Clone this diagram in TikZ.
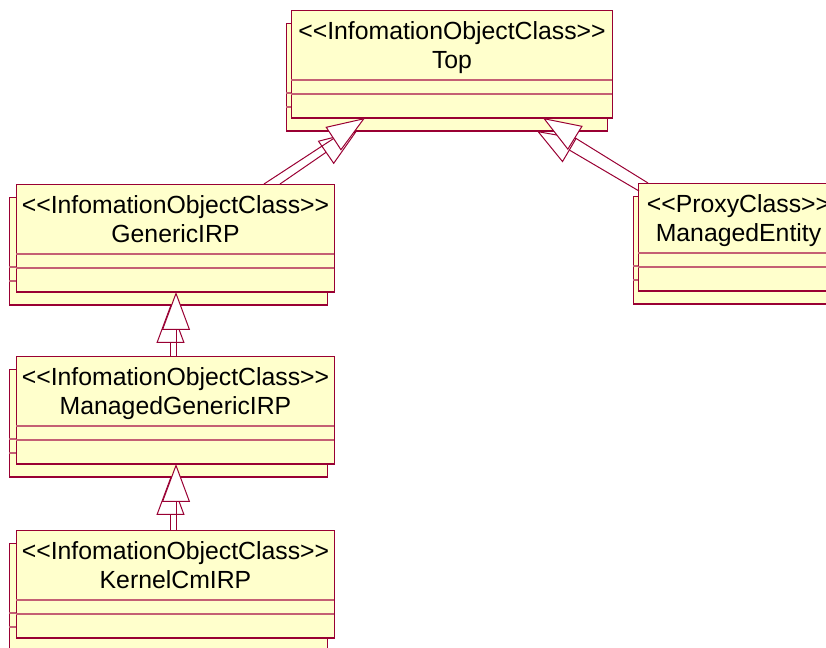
\documentclass[tikz,border=0pt]{standalone}
\usepackage{fontspec}
\setmainfont{Liberation Sans}
\usetikzlibrary{positioning,calc,arrows.meta}
\definecolor{umlfill}{RGB}{255,255,204}
\definecolor{umldark}{RGB}{153,0,51}
\definecolor{umlpink}{RGB}{196,96,116}

\begin{document}
\begin{tikzpicture}[x=0.75pt,y=-0.75pt,
    classbox/.style={draw=umldark, fill=umlfill, line width=0.75pt, inner sep=0pt,
      anchor=north west, minimum height=80.25pt},
    classtext/.style={anchor=north, align=center, inner sep=0pt,
      font=\fontsize{18.6}{22}\selectfont},
    sepline/.style={draw=umlpink, line width=1pt},
    inherit/.style={draw=umldark, line width=0.75pt,
      -{Triangle[length=28.5pt,width=21pt,fill=white,line width=0.75pt]}}]
    \useasboundingbox (0,0) rectangle (826,648);

    % Classes (shadow copy behind, then front box)
    \foreach \nm/\x/\y/\bx/\w/\st/\cl in {
        top/291/10/286/321/InfomationObjectClass/Top,
        gen/16/184/9/318/InfomationObjectClass/GenericIRP,
        mgen/16/356/9/318/InfomationObjectClass/ManagedGenericIRP,
        kern/16/530/9/318/InfomationObjectClass/KernelCmIRP,
        ent/638/183/633/200/ProxyClass/ManagedEntity}{
        \node[classbox, minimum width=\w*0.75pt] (\nm-b) at (\bx,\y+13) {};
        \draw[sepline] ($(\nm-b.north west)+(0,70)$) -- ++(\w,0)
                       ($(\nm-b.north west)+(0,84)$) -- ++(\w,0);
        \draw[umldark, line width=1.5pt] (\nm-b.south west) -- (\nm-b.south east);

        \node[classbox, minimum width=\w*0.75pt] (\nm) at (\x,\y) {};
        \draw[sepline] ($(\nm.north west)+(0,70)$) -- ++(\w,0)
                       ($(\nm.north west)+(0,84)$) -- ++(\w,0);
        \draw[umldark, line width=1.5pt] (\nm.south west) -- (\nm.south east);
        \node[classtext] (\nm-t) at ($(\nm.north)+(0,11)$) {<{}<\st>{}>\\\cl};
    }

    % Generalizations (each drawn twice)
    \draw[inherit] ($(gen.north west)+(264,0)$) -- ($(top-b.south west)+(71,0)$);
    \draw[inherit] ($(gen.north west)+(248,0)$) -- ($(top.south west)+(74,0)$);

    \draw[inherit] ($(ent.north west)+(1,8)$) -- ($(top-b.south west)+(251,0)$);
    \draw[inherit] ($(ent.north west)+(10,0)$) -- ($(top.south west)+(252,0)$);

    \draw[inherit] ($(mgen.north west)+(154.5,0)$) -- ($(gen-b.south west)+(161.5,0)$);
    \draw[inherit] ($(mgen.north west)+(160,0)$) -- ($(gen.south west)+(160,0)$);

    \draw[inherit] ($(kern.north west)+(154.5,0)$) -- ($(mgen-b.south west)+(161.5,0)$);
    \draw[inherit] ($(kern.north west)+(160,0)$) -- ($(mgen.south west)+(160,0)$);
\end{tikzpicture}
\end{document}
